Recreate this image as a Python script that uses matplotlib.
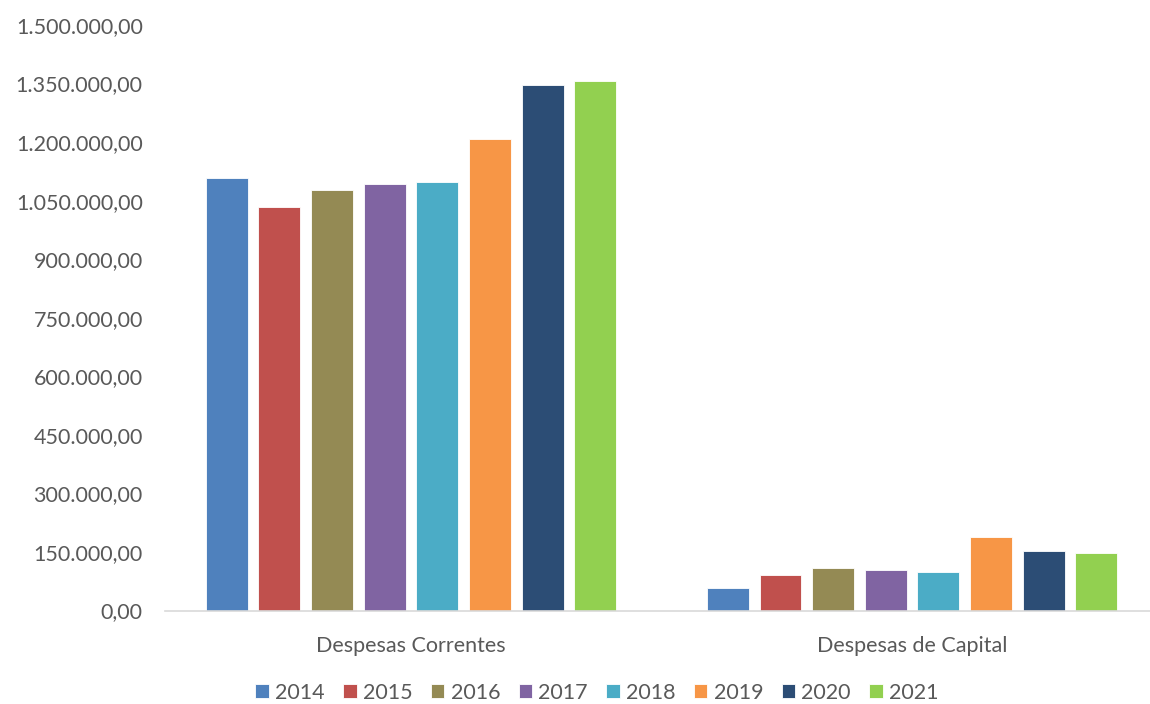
import matplotlib
matplotlib.use("Agg")
import matplotlib.pyplot as plt
import numpy as np
from matplotlib.ticker import FuncFormatter

categories = ["Despesas Correntes", "Despesas de Capital"]
years = ["2014", "2015", "2016", "2017", "2018", "2019", "2020", "2021"]
correntes = [1108000, 1034500, 1078000, 1091900, 1097000, 1207200, 1345500, 1357300]
capital = [56900, 90900, 108100, 103800, 97900, 188300, 151700, 147300]
colors = ["#4F81BD", "#C0504D", "#948A54", "#8064A2", "#4BACC6", "#F79646", "#2C4D75", "#92D050"]

plt.rcParams["font.family"] = ["Lato", "DejaVu Sans"]
TXT = "#595959"
FS = 15.5

fig = plt.figure(figsize=(11.5, 7.04), dpi=100)
ax = fig.add_axes([165 / 1150, (704 - 610.5) / 704, (1150 - 165) / 1150, (610.5 - 25) / 704])

x = np.arange(len(categories))
slot = 0.105
bw = 0.0838
for i, yr in enumerate(years):
    off = (i - (len(years) - 1) / 2) * slot
    ax.bar(x + off, [correntes[i], capital[i]], width=bw, color=colors[i],
           edgecolor="white", linewidth=0.6, label=yr, zorder=2)

ax.set_xlim(-0.491, 1.475)
ax.set_ylim(0, 1500000)
ax.set_yticks(np.arange(0, 1500001, 150000))

def br_fmt(v, pos):
    s = f"{v:,.2f}"
    return s.replace(",", "X").replace(".", ",").replace("X", ".")

ax.yaxis.set_major_formatter(FuncFormatter(br_fmt))
ax.set_xticks(x)
ax.set_xticklabels(categories)
ax.tick_params(axis="both", length=0, labelsize=FS, colors=TXT)
ax.tick_params(axis="y", pad=16)
ax.tick_params(axis="x", pad=18)

for s in ["top", "right", "left"]:
    ax.spines[s].set_visible(False)
ax.spines["bottom"].set_color("#D9D9D9")
ax.spines["bottom"].set_linewidth(1.2)

leg = fig.legend(loc="center", bbox_to_anchor=(597 / 1150, 1 - 693 / 704), ncol=8,
                 frameon=False, fontsize=FS, handlelength=0.62, handleheight=0.62,
                 handletextpad=0.3, columnspacing=0.85, borderpad=0.1)
for t in leg.get_texts():
    t.set_color(TXT)

fig.savefig("out.png", dpi=100)
